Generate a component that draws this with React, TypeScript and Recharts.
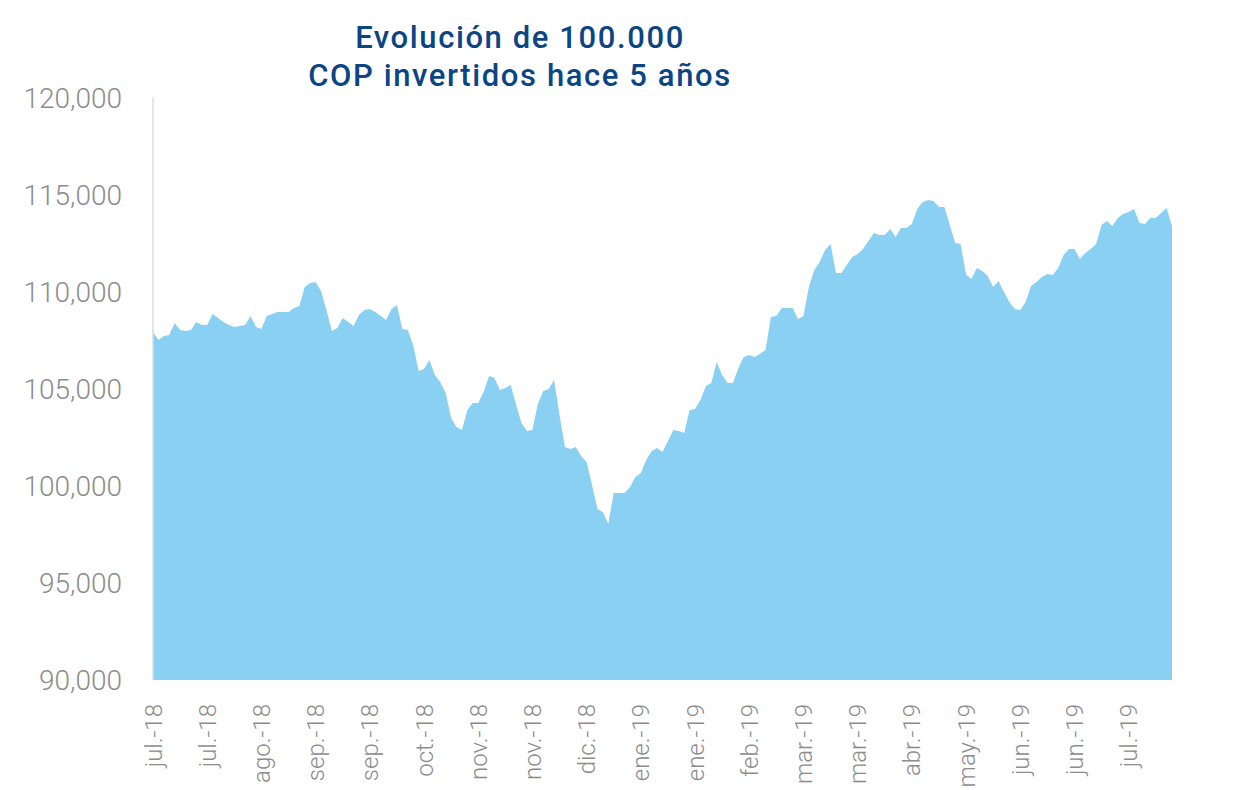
import React from "react";
import { AreaChart, Area, XAxis, YAxis } from "recharts";

const tickLabels = [
  "jul.-18", "jul.-18", "ago.-18", "sep.-18", "sep.-18", "oct.-18", "nov.-18",
  "nov.-18", "dic.-18", "ene.-19", "ene.-19", "feb.-19", "mar.-19", "mar.-19",
  "abr.-19", "may.-19", "jun.-19", "jun.-19", "jul.-19",
];

const yTicks = [90000, 95000, 100000, 105000, 110000, 115000, 120000];

const values = [
  107940, 107530, 107730, 107780, 108400, 108040, 107990, 108040, 108450, 108300,
  108300, 108870, 108660, 108450, 108300, 108200, 108250, 108300, 108760, 108200,
  108090, 108760, 108870, 108970, 108970, 108970, 109180, 109280, 110260, 110460,
  110520, 110050, 109070, 107990, 108140, 108660, 108450, 108250, 108810, 109070,
  109120, 108970, 108760, 108560, 109120, 109330, 108090, 108040, 107270, 105930,
  106030, 106500, 105720, 105360, 104790, 103510, 103040, 102890, 103920, 104280,
  104280, 104850, 105670, 105570, 104950, 105050, 105210, 104180, 103250, 102840,
  102890, 104230, 104900, 105000, 105460, 103660, 102010, 101910, 102010, 101550,
  101240, 100050, 98810, 98660, 98040, 99640, 99640, 99640, 99950, 100460,
  100670, 101340, 101800, 101960, 101750, 102320, 102890, 102840, 102730, 103920,
  103970, 104430, 105150, 105310, 106390, 105720, 105310, 105310, 106080, 106650,
  106750, 106650, 106800, 107010, 108710, 108760, 109180, 109180, 109180, 108610,
  108760, 110260, 111130, 111550, 112160, 112470, 110980, 110980, 111390, 111800,
  111960, 112220, 112630, 113040, 112940, 112940, 113250, 112840, 113300, 113300,
  113510, 114280, 114640, 114740, 114690, 114380, 114380, 113450, 112530, 112470,
  110900, 110670, 111240, 111080, 110820, 110260, 110570, 110000, 109480, 109120,
  109070, 109480, 110310, 110520, 110770, 110930, 110880, 111240, 111910, 112220,
  112220, 111700, 112010, 112220, 112470, 113450, 113660, 113400, 113810, 114020,
  114120, 114280, 113560, 113510, 113810, 113810, 114070, 114330, 113400,
];

const data = values.map((v, i) => ({ i, v }));
const xTicks = tickLabels.map((_, k) => k * 10);

const GRAY = "#8c8c8c";

const XTick = (props: any) => {
  const { x, y, payload } = props;
  const label = tickLabels[Math.round(payload.value / 10)] ?? "";
  return (
    <text
      x={x}
      y={y + 16}
      transform={`rotate(-90, ${x}, ${y + 16})`}
      textAnchor="end"
      dy="0.36em"
      fill={GRAY}
      fontSize={24}
      fontFamily="Roboto, sans-serif"
      fontWeight={300}
    >
      {label}
    </text>
  );
};

export default function App() {
  return (
    <div style={{ position: "absolute", left: 0, top: 0, width: 1239, height: 790, background: "#fff" }}>
      <div
        style={{
          position: "absolute",
          left: 220,
          width: 600,
          top: 19,
          textAlign: "center",
          color: "#0b4584",
          fontFamily: "Roboto, sans-serif",
          fontWeight: 500,
          fontSize: 31,
          lineHeight: "38px",
          letterSpacing: "1.6px",
        }}
      >
        Evolución de 100.000
        <br />
        COP invertidos hace 5 años
      </div>
      <AreaChart
        width={1239}
        height={790}
        data={data}
        margin={{ top: 98, right: 67, bottom: 0, left: 0 }}
      >
        <XAxis
          dataKey="i"
          type="number"
          domain={[0, values.length - 1]}
          ticks={xTicks}
          interval={0}
          axisLine={false}
          tickLine={false}
          height={110}
          tick={<XTick />}
        />
        <YAxis
          type="number"
          domain={[90000, 120000]}
          ticks={yTicks}
          interval={0}
          width={153}
          axisLine={{ stroke: "#dcdcdc", strokeWidth: 1.5 }}
          tickLine={false}
          tickSize={0}
          tickMargin={31}
          tickFormatter={(v: number) => v.toLocaleString("en-US")}
          tick={{ fill: GRAY, fontSize: 28, fontFamily: "Roboto, sans-serif", fontWeight: 300 }}
        />
        <Area
          type="linear"
          dataKey="v"
          stroke="none"
          fill="#8ad0f2"
          fillOpacity={1}
          isAnimationActive={false}
          baseValue={90000}
        />
      </AreaChart>
    </div>
  );
}
